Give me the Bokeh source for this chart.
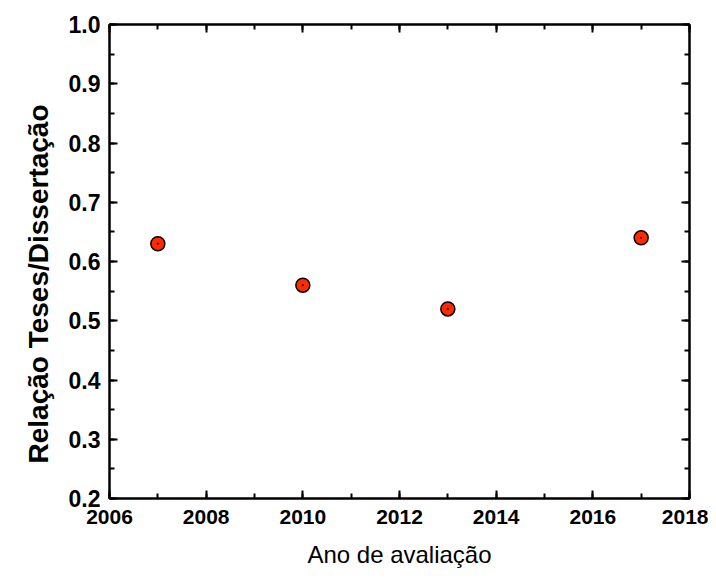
from bokeh.plotting import figure
from bokeh.models import LinearAxis, SingleIntervalTicker, Range1d, CustomJSTickFormatter, Title
from bokeh.embed import file_html
from bokeh.resources import INLINE

years = [2007, 2010, 2013, 2017]
ratio = [0.63, 0.56, 0.52, 0.64]
x_title = "Ano de avaliação"
y_title = "Relação Teses/Dissertação"

FONT = "Liberation Sans"

p = figure(width=708, height=570, output_backend="svg", toolbar_location=None,
           x_range=Range1d(2006, 2018), y_range=Range1d(0.2, 1.0),
           min_border_left=109, min_border_top=24, min_border_right=19, min_border_bottom=72,
           x_axis_label=x_title)
p.outline_line_color = "black"
p.outline_line_width = 2
p.grid.visible = False
p.background_fill_color = "white"
p.border_fill_color = "white"

xt = SingleIntervalTicker(interval=2, num_minor_ticks=2)
yt = SingleIntervalTicker(interval=0.1, num_minor_ticks=2)

def style(ax, show_labels):
    ax.axis_line_width = 2
    ax.major_tick_in = 8
    ax.major_tick_out = 0
    ax.minor_tick_in = 5
    ax.minor_tick_out = 0
    ax.major_tick_line_width = 2
    ax.minor_tick_line_width = 2
    ax.major_label_text_font = FONT
    ax.axis_label_text_font = FONT
    ax.axis_label_text_color = "black"
    ax.major_label_text_color = "black"
    if not show_labels:
        ax.formatter = CustomJSTickFormatter(code="return ''")
        ax.major_label_standoff = 0

xa = p.xaxis[0]
xa.ticker = xt
style(xa, True)
xa.major_label_text_font_size = "21px"
xa.major_label_text_font_style = "bold"
xa.major_label_standoff = 11
xa.axis_label_text_font_size = "24px"
xa.axis_label_text_font_style = "normal"
xa.axis_label_standoff = 14

ya = p.yaxis[0]
ya.ticker = yt
style(ya, True)
ya.major_label_text_font_size = "23px"
ya.major_label_text_font_style = "bold"
ya.major_label_standoff = 9
ya.formatter = CustomJSTickFormatter(code="return tick.toFixed(1)")

top = LinearAxis(ticker=SingleIntervalTicker(interval=2, num_minor_ticks=2))
style(top, False)
p.add_layout(top, "above")
right = LinearAxis(ticker=SingleIntervalTicker(interval=0.1, num_minor_ticks=2))
style(right, False)
p.add_layout(right, "right")

ytitle = Title(text=y_title, align="left", offset=35, standoff=20, vertical_align="top",
               text_font=FONT, text_font_size="28px", text_font_style="bold",
               text_color="black")
p.add_layout(ytitle, "left")

p.scatter(years, ratio, size=14, fill_color="#ff2a00", line_color="black", line_width=1.5)
p.scatter(years, ratio, size=1.5, fill_color="#550000", line_color="#550000")

open("out.html", "w").write(file_html(p, INLINE))
